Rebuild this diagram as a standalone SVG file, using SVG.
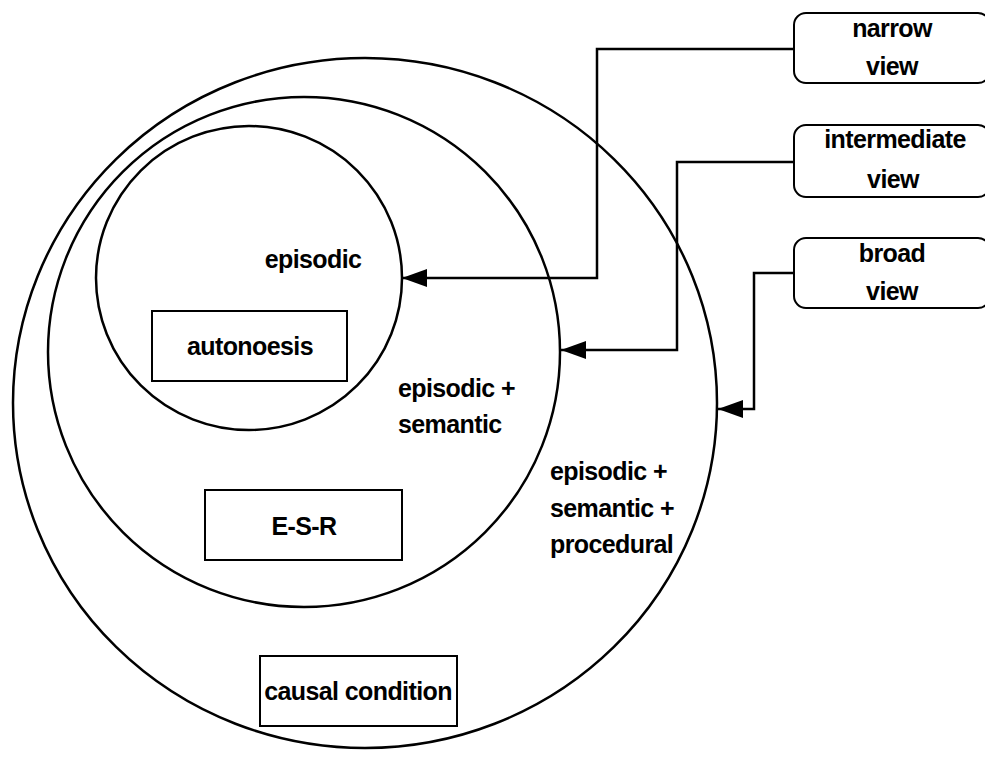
<svg xmlns="http://www.w3.org/2000/svg" width="985" height="757" viewBox="0 0 985 757">
<style>
.c{fill:none;stroke:#000;stroke-width:2.5}
.b{fill:#fff;stroke:#000;stroke-width:2}
.t{font-family:"Liberation Sans",Arial,Helvetica,sans-serif;font-weight:bold;font-size:25px;letter-spacing:-0.6px;fill:#000}
.m{text-anchor:middle}
.l{fill:none;stroke:#000;stroke-width:2.5}
</style>
<defs>
<marker id="ah" markerUnits="userSpaceOnUse" markerWidth="26" markerHeight="18" refX="25" refY="9" orient="auto">
<path d="M0,0 L25,9 L0,18 Z" fill="#000"/>
</marker>
</defs>
<g id="broad">
<ellipse class="c" cx="365" cy="403" rx="352" ry="345"/>
<text class="t" x="550" y="480">episodic +</text>
<text class="t" x="550" y="517">semantic +</text>
<text class="t" x="550" y="553">procedural</text>
</g>
<g id="intermediate">
<ellipse class="c" cx="304" cy="352" rx="256" ry="255"/>
<text class="t" x="398" y="397">episodic +</text>
<text class="t" x="398" y="433">semantic</text>
</g>
<g id="narrow">
<ellipse class="c" cx="249" cy="278" rx="153" ry="152"/>
<text class="t m" x="313" y="268">episodic</text>
</g>
<g id="autonoesis">
<rect class="b" x="152" y="311" width="195" height="70"/>
<text class="t m" x="250" y="355">autonoesis</text>
</g>
<g id="esr">
<rect class="b" x="205" y="490" width="197" height="70"/>
<text class="t m" x="304" y="535">E-S-R</text>
</g>
<g id="causal">
<rect class="b" x="260" y="656" width="197" height="70"/>
<text class="t m" x="358" y="700">causal condition</text>
</g>
<g id="narrow-view">
<rect class="b" x="794" y="13" width="196" height="70" rx="12"/>
<text class="t m" x="892" y="37">narrow</text>
<text class="t m" x="892" y="75">view</text>
</g>
<g id="intermediate-view">
<rect class="b" x="794" y="125" width="196" height="72" rx="12"/>
<text class="t m" x="895" y="148">intermediate</text>
<text class="t m" x="893" y="188">view</text>
</g>
<g id="broad-view">
<rect class="b" x="794" y="238" width="196" height="70" rx="12"/>
<text class="t m" x="892" y="262">broad</text>
<text class="t m" x="892" y="300">view</text>
</g>
<g id="connectors">
<polyline class="l" points="794,49 597,49 597,278 402,278" marker-end="url(#ah)"/>
<polyline class="l" points="794,162 677,162 677,350 561,350" marker-end="url(#ah)"/>
<polyline class="l" points="794,273 754,273 754,409 718,409" marker-end="url(#ah)"/>
</g>
</svg>
